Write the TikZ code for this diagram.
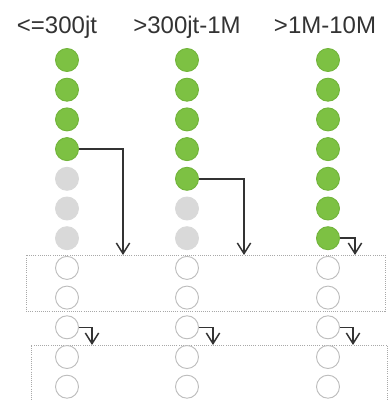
\documentclass[tikz,border=0pt]{standalone}
\usepackage{fontspec}
\setmainfont{Liberation Sans}
\usepackage{tikz}
\usetikzlibrary{arrows.meta}
\definecolor{dotgreen}{HTML}{7DC143}
\definecolor{dotgreenrim}{HTML}{72B53B}
\definecolor{dotgrey}{HTML}{D9D9D9}
\definecolor{rimgrey}{HTML}{BDBDBD}
\definecolor{linegrey}{HTML}{333333}
\definecolor{boxgrey}{HTML}{A8A8A8}

\tikzset{
  dot/.style={circle, minimum size=17.25pt, inner sep=0pt, line width=0.7pt},
  link/.style={draw=linegrey, line width=1.1pt, line join=miter, -{Straight Barb[length=8pt,width=10pt,line width=1.1pt]}},
  slot/.style={draw=boxgrey, densely dotted, line width=0.6pt, inner sep=0pt}
}

\begin{document}
\begin{tikzpicture}[x=0.75pt,y=-0.75pt]
\useasboundingbox (0,0) rectangle (390,400);
\clip (0,0) rectangle (390,400);

% headers
\node[anchor=base, font=\fontsize{18}{21}\selectfont, text=linegrey] (h1) at (57,33) {<=300jt};
\node[anchor=base, font=\fontsize{18}{21}\selectfont, text=linegrey] (h2) at (187,33) {>300jt-1M};
\node[anchor=base, font=\fontsize{18}{21}\selectfont, text=linegrey] (h3) at (325,33) {>1M-10M};

% boxes
\node[slot, minimum width=269.25pt, minimum height=42pt] (box1) at (205.5,283) {};
\node[slot, minimum width=267pt, minimum height=52.5pt] (box2) at (209,380) {};

% circles
\foreach \col/\x/\ng in {1/67/4, 2/187/5, 3/328/7}{
  \foreach \r in {1,...,12}{
    \ifnum\r>7 \def\fc{white}\def\dc{rimgrey}%
    \else\ifnum\r>\ng \def\fc{dotgrey}\def\dc{dotgrey}%
    \else \def\fc{dotgreen}\def\dc{dotgreenrim}\fi\fi
    \node[dot, fill=\fc, draw=\dc] (c\col-\r) at (\x,{60+29.7*(\r-1)}) {};
  }
}

% arrow ends
\coordinate (t1) at (123,255);
\coordinate (t2) at (244,255);
\coordinate (t3) at (355,255);
\coordinate (b1) at (92,345);
\coordinate (b2) at (213,345);
\coordinate (b3) at (353,345);

\draw[link] (c1-4.east) -| (t1);
\draw[link] (c2-5.east) -| (t2);
\draw[link] (c3-7.east) -| (t3);
\draw[link] (c1-10.east) -| (b1);
\draw[link] (c2-10.east) -| (b2);
\draw[link] (c3-10.east) -| (b3);
\end{tikzpicture}
\end{document}
